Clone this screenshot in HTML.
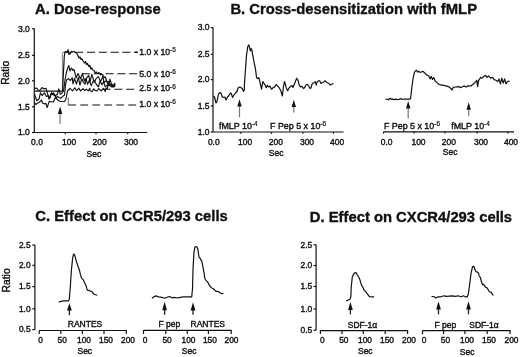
<!DOCTYPE html>
<html><head><meta charset="utf-8"><style>
html,body{margin:0;padding:0;background:#fff;}
svg{display:block;filter:grayscale(1);}
text{font-family:"Liberation Sans", sans-serif;stroke:#111;stroke-width:0.38px;}
text[font-weight=bold]{stroke-width:0.35px;}
tspan{stroke-width:0.2px;}
</style></head><body>
<svg width="520" height="357" viewBox="0 0 520 357">
<rect width="520" height="357" fill="#fff"/>
<text x="35.00" y="13.50" font-size="14.8" text-anchor="start" font-weight="bold" fill="#111" >A. Dose-response</text>
<line x1="34.30" y1="28.60" x2="34.30" y2="132.50" stroke="#111" stroke-width="1.2" />
<line x1="32.00" y1="132.50" x2="34.30" y2="132.50" stroke="#111" stroke-width="1.2" />
<text x="29.80" y="135.30" font-size="8.5" text-anchor="end" font-weight="normal" fill="#111" >1.0</text>
<line x1="32.00" y1="106.80" x2="34.30" y2="106.80" stroke="#111" stroke-width="1.2" />
<text x="29.80" y="109.60" font-size="8.5" text-anchor="end" font-weight="normal" fill="#111" >1.5</text>
<line x1="32.00" y1="80.80" x2="34.30" y2="80.80" stroke="#111" stroke-width="1.2" />
<text x="29.80" y="83.60" font-size="8.5" text-anchor="end" font-weight="normal" fill="#111" >2.0</text>
<line x1="32.00" y1="55.30" x2="34.30" y2="55.30" stroke="#111" stroke-width="1.2" />
<text x="29.80" y="58.10" font-size="8.5" text-anchor="end" font-weight="normal" fill="#111" >2.5</text>
<line x1="32.00" y1="28.80" x2="34.30" y2="28.80" stroke="#111" stroke-width="1.2" />
<text x="29.80" y="31.60" font-size="8.5" text-anchor="end" font-weight="normal" fill="#111" >3.0</text>
<line x1="34.30" y1="132.50" x2="147.30" y2="132.50" stroke="#111" stroke-width="1.2" />
<line x1="65.30" y1="132.50" x2="65.30" y2="134.30" stroke="#111" stroke-width="1.2" />
<line x1="96.00" y1="132.50" x2="96.00" y2="134.30" stroke="#111" stroke-width="1.2" />
<line x1="127.70" y1="132.50" x2="127.70" y2="134.30" stroke="#111" stroke-width="1.2" />
<text x="37.00" y="145.30" font-size="8.5" text-anchor="middle" font-weight="normal" fill="#111" >0.0</text>
<text x="69.20" y="145.30" font-size="8.5" text-anchor="middle" font-weight="normal" fill="#111" >100</text>
<text x="99.70" y="145.30" font-size="8.5" text-anchor="middle" font-weight="normal" fill="#111" >200</text>
<text x="131.00" y="145.30" font-size="8.5" text-anchor="middle" font-weight="normal" fill="#111" >300</text>
<text x="93.90" y="156.80" font-size="8.5" text-anchor="middle" font-weight="normal" fill="#111" >Sec</text>
<text x="0.00" y="0.00" font-size="10.3" text-anchor="middle" font-weight="normal" fill="#111" transform="translate(8.5,72.8) rotate(-90)">Ratio</text>
<line x1="63.40" y1="52.20" x2="137.50" y2="52.20" stroke="#111" stroke-width="1.1" stroke-dasharray="8 3.8"/>
<line x1="82.00" y1="73.80" x2="137.00" y2="73.80" stroke="#111" stroke-width="1.1" stroke-dasharray="8 3.8"/>
<line x1="102.60" y1="89.30" x2="134.50" y2="89.30" stroke="#111" stroke-width="1.1" stroke-dasharray="8 3.8"/>
<line x1="68.30" y1="105.00" x2="68.30" y2="97.50" stroke="#666" stroke-width="1.0" />
<line x1="68.30" y1="105.00" x2="136.50" y2="105.00" stroke="#111" stroke-width="1.1" stroke-dasharray="7.8 4.2"/>
<line x1="134.60" y1="52.20" x2="137.90" y2="52.20" stroke="#111" stroke-width="1.3" />
<text x="139.2" y="54.6" font-size="8.7" fill="#111">1.0 x 10<tspan font-size="6.52" dy="-2.7">-5</tspan></text>
<text x="139.2" y="76.5" font-size="8.7" fill="#111">5.0 x 10<tspan font-size="6.52" dy="-2.7">-6</tspan></text>
<text x="139.2" y="91.2" font-size="8.7" fill="#111">2.5 x 10<tspan font-size="6.52" dy="-2.7">-6</tspan></text>
<text x="139.2" y="106.8" font-size="8.7" fill="#111">1.0 x 10<tspan font-size="6.52" dy="-2.7">-6</tspan></text>
<line x1="60.1" y1="113.39999999999999" x2="60.1" y2="124" stroke="#777" stroke-width="1.2"/>
<polygon points="60.1,106.6 57.9,113.89999999999999 62.300000000000004,113.89999999999999" fill="#111"/>
<line x1="62.40" y1="52.50" x2="62.40" y2="91.10" stroke="#777" stroke-width="0.9" />
<polyline points="34.50,91.10 62.60,91.10 63.30,75.00 64.30,56.00 65.00,52.00 66.22,51.43 67.26,52.21 68.06,49.70 68.86,54.36 70.01,53.90 71.76,51.41 72.70,52.05 73.96,51.55 75.09,52.46 76.50,53.00 78.00,55.50 79.00,58.00 80.00,57.00 81.00,59.50 82.00,58.80 83.00,61.00 84.50,63.00 85.50,61.50 86.50,64.50 87.50,63.50 88.80,66.50 89.80,65.50 90.80,69.00 91.80,68.00 92.70,70.00 94.00,70.50 95.20,73.00 96.30,72.00 97.50,73.50 99.00,72.50 100.50,74.80 101.50,74.00 103.00,75.30 104.20,77.50 105.30,77.00 106.50,80.50 107.50,82.20 108.50,81.50 109.40,85.00 110.40,84.20 111.40,87.00 113.00,86.00 114.00,87.00 115.00,85.50" fill="none" stroke="#111" stroke-width="1.2" stroke-linejoin="round" />
<polyline points="34.50,88.66 36.45,87.97 38.50,90.53 39.71,90.54 42.08,87.54 43.65,88.82 45.97,88.24 47.73,94.21 49.03,99.12 50.94,93.60 52.22,94.46 53.64,92.96 55.09,95.66 57.33,94.27 58.75,88.77 60.28,94.28 61.71,93.45 63.50,91.00 65.00,80.00 66.50,72.00 68.00,67.50 68.80,65.50 70.00,71.00 71.50,68.00 73.00,70.50 73.80,69.40 75.00,73.00 76.00,78.05 78.00,73.58 80.39,78.78 82.45,73.51 84.33,80.93 86.61,77.90 88.76,75.31 90.00,81.97 91.88,74.40 94.31,82.39 96.02,78.68 98.40,76.62 100.53,81.64 102.88,76.43 104.00,82.45 106.31,80.66 108.72,85.32 110.00,79.11 112.39,87.04 114.77,83.40 115.00,86.00" fill="none" stroke="#111" stroke-width="1.15" stroke-linejoin="round" />
<polyline points="34.50,93.93 36.74,100.75 38.91,99.27 40.44,92.80 42.12,95.54 44.39,92.83 46.40,96.55 48.18,95.67 49.87,98.36 51.67,92.48 53.08,94.86 54.50,94.61 56.12,98.86 57.21,96.09 58.28,97.10 60.59,98.21 62.45,96.62 64.50,95.00 65.50,85.00 66.50,80.00 68.50,78.60 70.30,80.50 72.20,77.70 73.00,83.83 74.47,78.42 76.45,84.06 78.33,77.47 79.93,85.02 81.82,78.82 83.64,82.68 85.08,84.16 86.00,78.55 87.60,84.38 89.33,80.25 91.23,85.61 93.71,79.94 96.25,84.07 98.45,86.83 100.00,81.14 102.02,84.75 103.64,81.65 105.26,86.89 107.64,84.66 108.00,86.00" fill="none" stroke="#111" stroke-width="1.15" stroke-linejoin="round" />
<polyline points="34.50,102.55 35.90,104.54 37.17,103.42 39.50,102.11 41.39,100.06 42.48,103.04 44.65,104.02 45.83,103.29 47.14,107.57 49.21,101.44 51.12,101.71 53.34,102.03 55.52,97.11 56.54,98.93 58.48,100.44 60.50,101.50 64.50,101.50 66.00,99.00 67.50,91.00 69.00,89.50 70.00,88.37 72.47,90.96 74.72,87.82 76.75,90.54 79.02,88.20 80.46,90.98 83.06,88.71 84.77,90.69 86.38,89.19 88.31,90.86 89.87,88.23 90.00,90.53 92.19,91.69 93.66,88.84 95.17,90.41 97.06,91.03 98.76,88.53 101.07,90.98 103.46,88.47 105.27,91.34 106.00,88.08 107.44,88.39 108.00,85.21 109.97,84.61 110.00,86.06 111.86,84.10 113.50,86.00" fill="none" stroke="#111" stroke-width="1.15" stroke-linejoin="round" />
<text x="230.40" y="13.60" font-size="14.8" text-anchor="start" font-weight="bold" fill="#111" >B. Cross-desensitization with fMLP</text>
<line x1="213.00" y1="27.60" x2="213.00" y2="132.00" stroke="#111" stroke-width="1.2" />
<line x1="210.80" y1="132.00" x2="213.00" y2="132.00" stroke="#111" stroke-width="1.2" />
<text x="209.60" y="134.80" font-size="8.5" text-anchor="end" font-weight="normal" fill="#111" >1.0</text>
<line x1="210.80" y1="106.00" x2="213.00" y2="106.00" stroke="#111" stroke-width="1.2" />
<text x="209.60" y="108.80" font-size="8.5" text-anchor="end" font-weight="normal" fill="#111" >1.5</text>
<line x1="210.80" y1="79.60" x2="213.00" y2="79.60" stroke="#111" stroke-width="1.2" />
<text x="209.60" y="82.40" font-size="8.5" text-anchor="end" font-weight="normal" fill="#111" >2.0</text>
<line x1="210.80" y1="54.30" x2="213.00" y2="54.30" stroke="#111" stroke-width="1.2" />
<text x="209.60" y="57.10" font-size="8.5" text-anchor="end" font-weight="normal" fill="#111" >2.5</text>
<line x1="210.80" y1="27.60" x2="213.00" y2="27.60" stroke="#111" stroke-width="1.2" />
<text x="209.60" y="30.40" font-size="8.5" text-anchor="end" font-weight="normal" fill="#111" >3.0</text>
<line x1="213.00" y1="132.00" x2="343.60" y2="132.00" stroke="#111" stroke-width="1.2" />
<line x1="240.80" y1="132.00" x2="240.80" y2="133.80" stroke="#111" stroke-width="1.2" />
<line x1="271.50" y1="132.00" x2="271.50" y2="133.80" stroke="#111" stroke-width="1.2" />
<line x1="302.80" y1="132.00" x2="302.80" y2="133.80" stroke="#111" stroke-width="1.2" />
<line x1="333.40" y1="132.00" x2="333.40" y2="133.80" stroke="#111" stroke-width="1.2" />
<text x="213.80" y="144.60" font-size="8.5" text-anchor="middle" font-weight="normal" fill="#111" >0.0</text>
<text x="245.20" y="144.60" font-size="8.5" text-anchor="middle" font-weight="normal" fill="#111" >100</text>
<text x="275.90" y="144.60" font-size="8.5" text-anchor="middle" font-weight="normal" fill="#111" >200</text>
<text x="307.00" y="144.60" font-size="8.5" text-anchor="middle" font-weight="normal" fill="#111" >300</text>
<text x="337.20" y="144.60" font-size="8.5" text-anchor="middle" font-weight="normal" fill="#111" >400</text>
<text x="276.20" y="156.00" font-size="8.5" text-anchor="middle" font-weight="normal" fill="#111" >Sec</text>
<polyline points="213.60,96.00 214.50,97.00 216.00,103.00 217.00,101.50 218.50,94.00 220.00,92.50 221.00,93.00 222.00,96.50 223.50,97.50 225.00,97.00 226.00,100.00 227.50,97.00 229.00,95.50 230.50,93.00 231.50,94.00 232.50,97.50 234.00,95.00 235.50,93.00 237.00,91.50 238.00,88.00 239.50,87.00 241.00,87.50 242.50,89.00 243.50,91.50 244.50,89.00 244.30,86.20 245.40,70.80 246.50,55.40 247.70,46.90 248.80,44.90 249.50,46.90 250.30,50.80 251.20,48.50 252.00,50.80 253.10,56.90 254.20,63.10 255.40,68.50 256.60,77.70 257.70,78.50 258.80,77.70 259.70,80.80 260.80,86.20 261.50,89.20 262.80,81.50 263.80,83.10 264.90,84.60 266.20,87.70 267.40,85.40 268.50,86.90 270.00,86.20 271.50,89.20 273.10,87.70 274.60,86.90 276.20,84.60 277.70,86.20 279.20,87.70 280.80,90.80 282.40,96.00 283.50,86.20 284.60,81.50 286.20,87.70 287.70,90.80 289.20,87.70 290.80,86.20 292.00,85.40 293.00,87.50 294.80,83.00 296.70,78.20 298.00,80.40 299.30,85.10 300.60,86.90 301.90,86.40 303.70,88.60 305.00,86.90 306.20,84.70 307.50,84.30 308.80,86.00 309.70,88.20 311.00,88.20 311.90,84.30 313.20,83.00 314.50,82.50 315.30,81.70 316.20,85.10 317.10,82.10 318.40,80.80 319.70,80.80 321.00,83.40 322.70,82.50 324.00,81.70 325.30,80.80 326.60,82.50 327.90,83.00 329.20,83.80 330.50,85.10 331.30,84.30 332.60,83.80 333.50,83.80" fill="none" stroke="#111" stroke-width="1.2" stroke-linejoin="round" />
<line x1="239.5" y1="106.1" x2="239.5" y2="117.4" stroke="#777" stroke-width="1.2"/>
<polygon points="239.5,99.3 237.3,106.6 241.7,106.6" fill="#111"/>
<line x1="293.8" y1="106.6" x2="293.8" y2="112.5" stroke="#777" stroke-width="1.2"/>
<polygon points="293.8,99.8 291.6,107.1 296.0,107.1" fill="#111"/>
<text x="219" y="128.8" font-size="8.899999999999999" fill="#111">fMLP 10<tspan font-size="6.52" dy="-3.0">-4</tspan></text>
<text x="270" y="128.5" font-size="8.899999999999999" fill="#111">F Pep 5 x 10<tspan font-size="6.52" dy="-3.0">-6</tspan></text>
<line x1="383.50" y1="131.80" x2="514.00" y2="131.80" stroke="#111" stroke-width="1.2" />
<line x1="383.50" y1="131.80" x2="383.50" y2="133.60" stroke="#111" stroke-width="1.2" />
<line x1="414.20" y1="131.80" x2="414.20" y2="133.60" stroke="#111" stroke-width="1.2" />
<line x1="445.00" y1="131.80" x2="445.00" y2="133.60" stroke="#111" stroke-width="1.2" />
<line x1="477.20" y1="131.80" x2="477.20" y2="133.60" stroke="#111" stroke-width="1.2" />
<line x1="507.80" y1="131.80" x2="507.80" y2="133.60" stroke="#111" stroke-width="1.2" />
<text x="386.60" y="144.60" font-size="8.5" text-anchor="middle" font-weight="normal" fill="#111" >0.0</text>
<text x="418.50" y="144.60" font-size="8.5" text-anchor="middle" font-weight="normal" fill="#111" >100</text>
<text x="448.90" y="144.60" font-size="8.5" text-anchor="middle" font-weight="normal" fill="#111" >200</text>
<text x="481.00" y="144.60" font-size="8.5" text-anchor="middle" font-weight="normal" fill="#111" >300</text>
<text x="511.00" y="144.60" font-size="8.5" text-anchor="middle" font-weight="normal" fill="#111" >400</text>
<text x="450.10" y="154.80" font-size="8.5" text-anchor="middle" font-weight="normal" fill="#111" >Sec</text>
<polyline points="385.60,99.50 387.00,99.00 388.50,99.80 390.00,98.25 391.50,99.30 393.00,99.20 394.50,99.60 396.00,99.10 397.50,99.70 398.75,99.50 400.50,98.40 402.00,99.40 403.50,99.00 405.00,99.20 406.50,99.10 408.00,99.20 410.20,99.10 410.60,98.25 411.90,87.00 413.10,78.25 414.40,72.60 415.00,71.40 416.25,70.10 417.50,72.00 418.70,71.20 420.00,72.40 421.25,72.00 423.10,71.40 425.00,73.25 426.90,75.10 428.75,75.75 430.00,78.90 431.25,76.40 432.50,79.50 433.75,77.60 435.00,80.75 436.90,82.60 438.75,84.25 441.25,85.10 442.80,85.20 445.60,85.90 448.40,86.60 451.20,88.70 452.00,90.10 453.30,87.30 455.40,87.00 458.30,86.60 461.00,87.60 463.90,85.90 466.00,87.00 468.10,85.90 470.90,85.90 473.70,83.80 475.80,81.70 476.80,80.30 477.60,86.60 478.60,80.30 480.70,77.40 482.10,78.20 483.50,76.70 485.60,75.30 487.00,77.40 488.50,75.80 490.60,78.20 492.70,77.40 494.10,79.60 496.20,80.30 497.60,81.70 499.00,78.90 500.40,83.80 501.80,78.20 503.20,83.10 504.60,78.90 506.00,83.80 507.40,81.70 508.80,81.00 509.50,81.70" fill="none" stroke="#111" stroke-width="1.2" stroke-linejoin="round" />
<line x1="408.2" y1="108.1" x2="408.2" y2="118.6" stroke="#777" stroke-width="1.2"/>
<polygon points="408.2,101.1 406.0,108.6 410.4,108.6" fill="#111"/>
<line x1="468.7" y1="109.3" x2="468.7" y2="116.2" stroke="#777" stroke-width="1.2"/>
<polygon points="468.7,102.2 466.5,109.8 470.9,109.8" fill="#111"/>
<text x="383.9" y="128.5" font-size="8.899999999999999" fill="#111">F Pep 5 x 10<tspan font-size="6.52" dy="-3.0">-6</tspan></text>
<text x="451.2" y="128.6" font-size="8.899999999999999" fill="#111">fMLP 10<tspan font-size="6.52" dy="-3.0">-4</tspan></text>
<text x="35.30" y="220.60" font-size="14.8" text-anchor="start" font-weight="bold" fill="#111" >C. Effect on CCR5/293 cells</text>
<line x1="34.90" y1="245.00" x2="34.90" y2="329.80" stroke="#111" stroke-width="1.2" />
<line x1="32.30" y1="329.60" x2="34.90" y2="329.60" stroke="#111" stroke-width="1.2" />
<text x="30.60" y="332.40" font-size="8.4" text-anchor="end" font-weight="normal" fill="#111" >0.5</text>
<line x1="32.30" y1="308.80" x2="34.90" y2="308.80" stroke="#111" stroke-width="1.2" />
<text x="30.60" y="311.60" font-size="8.4" text-anchor="end" font-weight="normal" fill="#111" >1.0</text>
<line x1="32.30" y1="286.60" x2="34.90" y2="286.60" stroke="#111" stroke-width="1.2" />
<text x="30.60" y="289.40" font-size="8.4" text-anchor="end" font-weight="normal" fill="#111" >1.5</text>
<line x1="32.30" y1="265.30" x2="34.90" y2="265.30" stroke="#111" stroke-width="1.2" />
<text x="30.60" y="268.10" font-size="8.4" text-anchor="end" font-weight="normal" fill="#111" >2.0</text>
<line x1="32.30" y1="245.00" x2="34.90" y2="245.00" stroke="#111" stroke-width="1.2" />
<text x="30.60" y="247.80" font-size="8.4" text-anchor="end" font-weight="normal" fill="#111" >2.5</text>
<text x="0.00" y="0.00" font-size="10.3" text-anchor="middle" font-weight="normal" fill="#111" transform="translate(9.6,280.4) rotate(-90)">Ratio</text>
<line x1="39.00" y1="330.50" x2="126.80" y2="330.50" stroke="#111" stroke-width="1.2" />
<line x1="39.20" y1="330.50" x2="39.20" y2="334.00" stroke="#111" stroke-width="1.2" />
<line x1="60.80" y1="330.50" x2="60.80" y2="334.00" stroke="#111" stroke-width="1.2" />
<line x1="82.40" y1="330.50" x2="82.40" y2="334.00" stroke="#111" stroke-width="1.2" />
<line x1="104.00" y1="330.50" x2="104.00" y2="334.00" stroke="#111" stroke-width="1.2" />
<line x1="126.30" y1="330.50" x2="126.30" y2="334.00" stroke="#111" stroke-width="1.2" />
<text x="40.70" y="343.10" font-size="8.4" text-anchor="middle" font-weight="normal" fill="#111" >0</text>
<text x="62.20" y="343.10" font-size="8.4" text-anchor="middle" font-weight="normal" fill="#111" >50</text>
<text x="84.00" y="343.10" font-size="8.4" text-anchor="middle" font-weight="normal" fill="#111" >100</text>
<text x="106.00" y="343.10" font-size="8.4" text-anchor="middle" font-weight="normal" fill="#111" >150</text>
<text x="128.00" y="343.10" font-size="8.4" text-anchor="middle" font-weight="normal" fill="#111" >200</text>
<text x="84.80" y="354.00" font-size="8.5" text-anchor="middle" font-weight="normal" fill="#111" >Sec</text>
<polyline points="58.80,302.10 61.50,301.20 63.60,300.80 68.50,300.80 69.30,299.50 70.30,287.00 71.40,270.20 72.70,257.60 73.70,253.80 74.80,255.50 76.20,260.70 77.90,266.00 79.40,270.20 80.40,274.40 81.50,278.10 83.10,279.60 84.60,282.80 86.10,285.90 87.30,290.10 89.40,290.70 92.00,291.60 94.00,294.30 97.20,295.30" fill="none" stroke="#111" stroke-width="1.2" stroke-linejoin="round" />
<line x1="69.4" y1="310.09999999999997" x2="69.4" y2="315.2" stroke="#222" stroke-width="1.3"/>
<polygon points="69.4,303.2 67.0,310.59999999999997 71.80000000000001,310.59999999999997" fill="#111"/>
<text x="85.00" y="327.40" font-size="8.5" text-anchor="middle" font-weight="normal" fill="#111" >RANTES</text>
<line x1="143.30" y1="330.40" x2="231.70" y2="330.40" stroke="#111" stroke-width="1.2" />
<line x1="143.50" y1="330.40" x2="143.50" y2="333.90" stroke="#111" stroke-width="1.2" />
<line x1="165.80" y1="330.40" x2="165.80" y2="333.90" stroke="#111" stroke-width="1.2" />
<line x1="187.30" y1="330.40" x2="187.30" y2="333.90" stroke="#111" stroke-width="1.2" />
<line x1="208.40" y1="330.40" x2="208.40" y2="333.90" stroke="#111" stroke-width="1.2" />
<line x1="231.20" y1="330.40" x2="231.20" y2="333.90" stroke="#111" stroke-width="1.2" />
<text x="145.00" y="343.00" font-size="8.4" text-anchor="middle" font-weight="normal" fill="#111" >0</text>
<text x="167.10" y="343.00" font-size="8.4" text-anchor="middle" font-weight="normal" fill="#111" >50</text>
<text x="188.50" y="343.00" font-size="8.4" text-anchor="middle" font-weight="normal" fill="#111" >100</text>
<text x="209.90" y="343.00" font-size="8.4" text-anchor="middle" font-weight="normal" fill="#111" >150</text>
<text x="231.50" y="343.00" font-size="8.4" text-anchor="middle" font-weight="normal" fill="#111" >200</text>
<text x="189.20" y="354.00" font-size="8.5" text-anchor="middle" font-weight="normal" fill="#111" >Sec</text>
<polyline points="151.90,298.40 153.20,297.30 155.80,295.90 158.70,296.90 161.70,297.30 164.60,298.20 167.00,297.30 169.50,296.50 172.00,297.80 174.40,297.30 177.40,298.00 180.30,297.30 183.20,296.90 187.20,296.90 191.70,296.90 192.50,289.00 193.00,269.40 194.00,251.80 195.00,246.90 197.00,246.90 198.00,249.80 198.90,256.70 200.30,258.60 201.90,261.60 203.40,269.40 204.10,273.13 204.80,278.20 205.80,280.05 206.80,281.20 207.75,281.96 208.70,284.10 210.20,286.43 211.70,288.00 213.15,288.52 214.60,290.00 216.05,291.36 217.50,291.40 219.00,291.92 220.50,293.30 221.95,293.79 223.40,293.30" fill="none" stroke="#111" stroke-width="1.2" stroke-linejoin="round" />
<line x1="164.6" y1="309.7" x2="164.6" y2="314.8" stroke="#222" stroke-width="1.3"/>
<polygon points="164.6,301.8 162.2,310.2 167.0,310.2" fill="#111"/>
<line x1="193" y1="309.9" x2="193" y2="314.8" stroke="#222" stroke-width="1.3"/>
<polygon points="193,302.2 190.6,310.4 195.4,310.4" fill="#111"/>
<text x="169.40" y="327.30" font-size="8.5" text-anchor="middle" font-weight="normal" fill="#111" >F pep</text>
<text x="207.80" y="327.30" font-size="8.5" text-anchor="middle" font-weight="normal" fill="#111" >RANTES</text>
<text x="309.80" y="221.60" font-size="14.8" text-anchor="start" font-weight="bold" fill="#111" >D. Effect on CXCR4/293 cells</text>
<line x1="316.10" y1="244.80" x2="316.10" y2="330.20" stroke="#111" stroke-width="1.2" />
<line x1="313.50" y1="330.20" x2="316.10" y2="330.20" stroke="#111" stroke-width="1.2" />
<text x="312.20" y="333.00" font-size="8.4" text-anchor="end" font-weight="normal" fill="#111" >0.5</text>
<line x1="313.50" y1="309.00" x2="316.10" y2="309.00" stroke="#111" stroke-width="1.2" />
<text x="312.20" y="311.80" font-size="8.4" text-anchor="end" font-weight="normal" fill="#111" >1.0</text>
<line x1="313.50" y1="286.50" x2="316.10" y2="286.50" stroke="#111" stroke-width="1.2" />
<text x="312.20" y="289.30" font-size="8.4" text-anchor="end" font-weight="normal" fill="#111" >1.5</text>
<line x1="313.50" y1="265.50" x2="316.10" y2="265.50" stroke="#111" stroke-width="1.2" />
<text x="312.20" y="268.30" font-size="8.4" text-anchor="end" font-weight="normal" fill="#111" >2.0</text>
<line x1="313.50" y1="244.80" x2="316.10" y2="244.80" stroke="#111" stroke-width="1.2" />
<text x="312.20" y="247.60" font-size="8.4" text-anchor="end" font-weight="normal" fill="#111" >2.5</text>
<line x1="320.20" y1="330.60" x2="407.60" y2="330.60" stroke="#111" stroke-width="1.2" />
<line x1="320.40" y1="330.60" x2="320.40" y2="334.10" stroke="#111" stroke-width="1.2" />
<line x1="342.00" y1="330.60" x2="342.00" y2="334.10" stroke="#111" stroke-width="1.2" />
<line x1="363.30" y1="330.60" x2="363.30" y2="334.10" stroke="#111" stroke-width="1.2" />
<line x1="385.20" y1="330.60" x2="385.20" y2="334.10" stroke="#111" stroke-width="1.2" />
<line x1="407.60" y1="330.60" x2="407.60" y2="334.10" stroke="#111" stroke-width="1.2" />
<text x="322.30" y="343.20" font-size="8.4" text-anchor="middle" font-weight="normal" fill="#111" >0</text>
<text x="343.80" y="343.20" font-size="8.4" text-anchor="middle" font-weight="normal" fill="#111" >50</text>
<text x="365.00" y="343.20" font-size="8.4" text-anchor="middle" font-weight="normal" fill="#111" >100</text>
<text x="387.00" y="343.20" font-size="8.4" text-anchor="middle" font-weight="normal" fill="#111" >150</text>
<text x="409.00" y="343.20" font-size="8.4" text-anchor="middle" font-weight="normal" fill="#111" >200</text>
<text x="365.30" y="353.60" font-size="8.5" text-anchor="middle" font-weight="normal" fill="#111" >Sec</text>
<polyline points="346.20,300.60 347.80,300.30 350.10,299.20 350.90,296.40 351.20,287.40 351.80,281.80 352.30,276.80 353.70,274.00 355.10,272.60 356.20,272.80 357.40,275.10 358.80,277.30 359.60,279.00 360.20,280.70 360.70,282.90 361.80,285.70 363.30,288.00 364.10,290.20 365.80,291.90 367.50,294.10 369.40,296.70 371.40,296.90 374.20,296.90" fill="none" stroke="#111" stroke-width="1.2" stroke-linejoin="round" />
<line x1="350.4" y1="309.4" x2="350.4" y2="314.4" stroke="#222" stroke-width="1.3"/>
<polygon points="350.4,301.9 348.0,309.9 352.79999999999995,309.9" fill="#111"/>
<text x="362.50" y="327.70" font-size="8.5" text-anchor="middle" font-weight="normal" fill="#111" >SDF-1&#945;</text>
<line x1="422.50" y1="330.60" x2="510.50" y2="330.60" stroke="#111" stroke-width="1.2" />
<line x1="422.50" y1="330.60" x2="422.50" y2="334.10" stroke="#111" stroke-width="1.2" />
<line x1="443.60" y1="330.60" x2="443.60" y2="334.10" stroke="#111" stroke-width="1.2" />
<line x1="464.90" y1="330.60" x2="464.90" y2="334.10" stroke="#111" stroke-width="1.2" />
<line x1="487.20" y1="330.60" x2="487.20" y2="334.10" stroke="#111" stroke-width="1.2" />
<line x1="510.00" y1="330.60" x2="510.00" y2="334.10" stroke="#111" stroke-width="1.2" />
<text x="424.00" y="343.20" font-size="8.4" text-anchor="middle" font-weight="normal" fill="#111" >0</text>
<text x="445.40" y="343.20" font-size="8.4" text-anchor="middle" font-weight="normal" fill="#111" >50</text>
<text x="467.00" y="343.20" font-size="8.4" text-anchor="middle" font-weight="normal" fill="#111" >100</text>
<text x="489.00" y="343.20" font-size="8.4" text-anchor="middle" font-weight="normal" fill="#111" >150</text>
<text x="511.50" y="343.20" font-size="8.4" text-anchor="middle" font-weight="normal" fill="#111" >200</text>
<text x="467.20" y="354.60" font-size="8.5" text-anchor="middle" font-weight="normal" fill="#111" >Sec</text>
<polyline points="431.50,296.50 433.70,296.50 435.80,298.00 438.00,296.80 440.90,296.80 443.80,295.80 446.60,296.40 449.50,296.10 452.40,295.80 455.30,296.40 458.20,295.80 461.00,296.80 463.20,295.80 465.40,296.80 467.30,296.80 468.30,294.00 469.70,283.80 471.20,272.30 472.60,266.50 473.80,266.30 474.80,269.40 476.20,272.00 477.30,271.87 478.40,273.00 479.10,275.46 479.80,276.60 480.55,278.00 481.30,281.00 482.00,283.33 482.70,284.60 483.55,284.42 484.40,285.30 485.35,287.13 486.30,287.50 487.40,288.28 488.50,290.30 489.55,291.80 490.60,292.20 491.35,292.37 492.10,293.70 492.80,294.94 493.50,295.10" fill="none" stroke="#111" stroke-width="1.2" stroke-linejoin="round" />
<line x1="438.5" y1="309.0" x2="438.5" y2="314.3" stroke="#222" stroke-width="1.3"/>
<polygon points="438.5,301.3 436.1,309.5 440.9,309.5" fill="#111"/>
<line x1="468.5" y1="309.0" x2="468.5" y2="314.3" stroke="#222" stroke-width="1.3"/>
<polygon points="468.5,301.3 466.1,309.5 470.9,309.5" fill="#111"/>
<text x="445.30" y="327.50" font-size="8.5" text-anchor="middle" font-weight="normal" fill="#111" >F pep</text>
<text x="484.00" y="327.70" font-size="8.5" text-anchor="middle" font-weight="normal" fill="#111" >SDF-1&#945;</text>
</svg></body></html>
